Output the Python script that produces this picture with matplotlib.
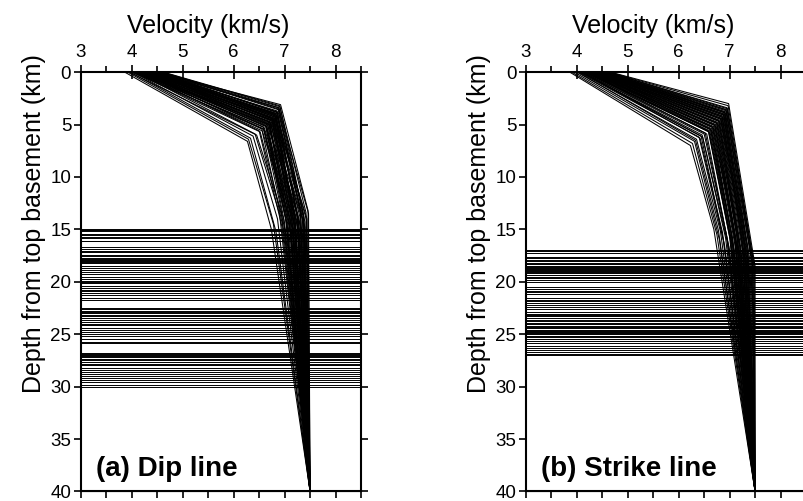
import matplotlib
matplotlib.use("Agg")
import matplotlib.pyplot as plt
from matplotlib.ticker import MultipleLocator

plt.rcParams['font.family'] = ['Liberation Sans', 'DejaVu Sans']

# velocity models: (0, v0) -> (d1, v1) -> (d2, v2) -> (40 km, 7.5)
BOTTOM_DEPTH = 40.0
BOTTOM_VEL = 7.5

# (a) dip line
dip_v0 = [3.86, 3.92, 3.97, 4.02, 4.08, 4.12, 4.18, 4.05, 4.22, 4.15,
          4.28, 4.10, 4.33, 4.20, 4.38, 4.25, 4.42, 4.30, 4.47, 4.35,
          4.52, 4.40, 4.57, 4.45, 4.62, 4.50, 4.00, 4.08, 4.18, 4.26,
          4.34, 4.13, 4.23, 4.31, 4.39, 4.46, 3.95, 4.03, 4.11, 4.21,
          4.29, 4.36, 4.44, 4.54, 4.16, 4.24, 4.32, 4.41, 4.49, 4.58,
          4.07, 4.19, 4.27, 4.37, 4.43, 4.14, 4.22, 4.34, 4.48, 4.60]
dip_d1 = [6.6, 6.4, 6.3, 6.1, 5.9, 5.6, 5.4, 5.2, 5.0, 4.9,
          4.8, 4.7, 4.6, 4.5, 4.4, 4.3, 4.2, 4.1, 4.0, 3.9,
          3.8, 3.7, 3.5, 3.4, 3.2, 3.1, 5.5, 5.0, 4.6, 4.3,
          4.0, 5.2, 4.8, 4.5, 4.2, 3.9, 6.0, 5.7, 5.3, 4.9,
          4.6, 4.4, 4.1, 3.6, 5.1, 4.7, 4.4, 4.1, 3.8, 3.4,
          5.6, 5.2, 4.8, 4.5, 4.3, 5.4, 5.0, 4.6, 4.0, 3.3]
dip_v1 = [6.27, 6.29, 6.33, 6.38, 6.42, 6.50, 6.55, 6.58, 6.62, 6.64,
          6.66, 6.68, 6.70, 6.72, 6.74, 6.75, 6.77, 6.78, 6.80, 6.82,
          6.84, 6.85, 6.87, 6.88, 6.90, 6.92, 6.60, 6.70, 6.78, 6.82,
          6.86, 6.65, 6.72, 6.79, 6.83, 6.88, 6.45, 6.52, 6.60, 6.68,
          6.75, 6.80, 6.84, 6.89, 6.63, 6.70, 6.76, 6.81, 6.86, 6.89,
          6.56, 6.64, 6.71, 6.77, 6.82, 6.58, 6.66, 6.73, 6.83, 6.91]
dip_d2 = [15.0, 14.5, 15.2, 14.0, 13.5, 14.8, 15.5, 13.0, 14.2, 15.0,
          13.8, 14.6, 15.3, 13.4, 14.0, 15.0, 14.4, 13.6, 15.2, 14.8,
          13.9, 14.5, 13.5, 14.0, 13.4, 13.2, 14.5, 15.0, 14.2, 13.8,
          14.6, 15.4, 13.6, 14.9, 15.1, 14.3, 14.0, 15.6, 13.3, 14.7,
          15.3, 13.7, 14.1, 13.5, 14.4, 15.0, 13.9, 14.6, 15.2, 13.8,
          14.3, 15.1, 13.5, 14.8, 14.0, 14.9, 13.7, 15.4, 14.2, 13.6]
dip_v2 = [6.74, 6.78, 6.83, 6.86, 6.90, 6.95, 7.00, 6.93, 7.03, 7.06,
          7.02, 7.10, 7.12, 7.08, 7.14, 7.17, 7.15, 7.20, 7.22, 7.19,
          7.25, 7.28, 7.32, 7.35, 7.42, 7.46, 7.05, 7.15, 7.24, 7.30,
          7.38, 7.12, 7.18, 7.26, 7.33, 7.40, 6.98, 7.04, 7.10, 7.20,
          7.28, 7.36, 7.43, 7.47, 7.00, 7.08, 7.16, 7.22, 7.30, 7.38,
          7.12, 7.22, 7.31, 7.40, 7.44, 7.16, 7.26, 7.35, 7.20, 7.37]
dip_moho = [15.0, 15.05, 15.1, 15.2, 15.4, 15.55, 15.7, 15.85, 16.1, 16.15,
            16.7, 16.9, 17.05, 17.2, 17.4, 17.55, 17.7, 17.8, 17.9, 18.0,
            18.1, 18.25, 18.5, 18.7, 18.9, 19.1, 19.3, 19.5, 19.7, 19.9,
            20.05, 20.1, 20.4, 20.6, 20.75, 20.9, 21.1, 21.3, 21.5, 21.75,
            22.5, 22.6, 22.75, 22.9, 23.0, 23.15, 23.3, 23.45, 23.6, 23.8,
            24.0, 24.15, 24.4, 24.6, 24.8, 25.0, 25.2, 25.45, 25.7, 25.85,
            26.8, 26.9, 27.0, 27.1, 27.2, 27.35, 27.5, 27.65, 27.8, 27.95,
            28.2, 28.4, 28.6, 28.8, 29.0, 29.2, 29.4, 29.6, 29.8, 30.0]

# (b) strike line
strike_v0 = [3.86, 3.90, 3.95, 4.00, 4.04, 4.08, 4.12, 4.16, 4.20, 4.24,
             4.28, 4.32, 4.36, 4.40, 4.44, 4.48, 4.52, 4.56, 4.60, 4.66,
             4.10, 4.18, 4.26, 4.34, 4.42, 4.50, 4.58, 4.14, 4.22, 4.30,
             4.38, 4.46, 4.54, 4.02, 4.06, 4.19, 4.27, 4.35, 4.43, 4.51,
             4.62, 4.11, 4.23, 4.31, 4.39, 4.47, 4.55, 4.15, 4.25, 4.33,
             4.41, 4.49, 4.64, 4.09, 4.21, 4.29, 4.37, 4.45, 4.53, 4.61]
strike_d1 = [7.0, 6.8, 6.6, 6.4, 6.2, 6.0, 5.8, 5.6, 5.4, 5.2,
             5.0, 4.8, 4.6, 4.4, 4.2, 4.0, 3.8, 3.6, 3.4, 3.0,
             6.3, 5.9, 5.5, 5.1, 4.7, 4.3, 3.9, 5.7, 5.3, 4.9,
             4.5, 4.1, 3.7, 6.5, 6.1, 5.6, 5.2, 4.8, 4.4, 4.0,
             3.5, 5.9, 5.4, 5.0, 4.6, 4.2, 3.8, 5.5, 5.1, 4.7,
             4.3, 3.9, 3.2, 6.2, 5.7, 5.3, 4.9, 4.5, 4.1, 3.6]
strike_v1 = [6.23, 6.27, 6.31, 6.35, 6.40, 6.46, 6.52, 6.58, 6.62, 6.66,
             6.70, 6.74, 6.78, 6.82, 6.85, 6.88, 6.90, 6.93, 6.95, 6.98,
             6.42, 6.55, 6.64, 6.72, 6.80, 6.86, 6.92, 6.60, 6.68, 6.76,
             6.83, 6.89, 6.94, 6.33, 6.44, 6.61, 6.69, 6.77, 6.84, 6.90,
             6.96, 6.50, 6.65, 6.73, 6.81, 6.87, 6.93, 6.63, 6.71, 6.79,
             6.85, 6.91, 6.97, 6.47, 6.59, 6.67, 6.75, 6.83, 6.88, 6.95]
strike_d2 = [15.0, 15.5, 16.0, 15.2, 16.5, 15.8, 17.0, 16.2, 15.6, 17.2,
             16.4, 15.4, 17.5, 16.8, 16.0, 17.8, 17.0, 18.0, 18.2, 18.5,
             15.3, 16.6, 15.9, 17.4, 16.3, 17.6, 18.1, 15.7, 16.9, 15.5,
             17.3, 16.7, 18.3, 15.1, 16.1, 17.1, 16.0, 17.7, 16.5, 17.9,
             18.4, 15.6, 16.8, 15.8, 17.2, 16.2, 17.5, 16.4, 17.0, 16.6,
             17.8, 16.9, 18.5, 16.3, 15.9, 17.3, 16.1, 17.6, 16.5, 18.0]
strike_v2 = [6.69, 6.75, 6.80, 6.82, 6.90, 6.92, 7.00, 7.02, 7.04, 7.10,
             7.12, 7.10, 7.20, 7.22, 7.24, 7.30, 7.32, 7.40, 7.45, 7.50,
             6.86, 6.98, 7.06, 7.16, 7.18, 7.28, 7.38, 7.00, 7.12, 7.14,
             7.26, 7.30, 7.44, 6.78, 6.88, 7.08, 7.10, 7.24, 7.26, 7.36,
             7.48, 6.94, 7.08, 7.12, 7.22, 7.28, 7.42, 7.04, 7.16, 7.20,
             7.34, 7.36, 7.48, 6.96, 7.02, 7.18, 7.16, 7.32, 7.34, 7.46]
strike_moho = [17.0, 17.1, 17.25, 17.6, 17.75, 17.9, 18.0, 18.2, 18.3, 18.45,
               18.55, 18.65, 18.8, 18.9, 19.0, 19.1, 19.2, 19.35, 19.5, 19.65,
               19.85, 20.0, 20.5, 20.7, 20.85, 21.0, 21.2, 21.5, 21.7, 21.85,
               22.0, 22.2, 22.4, 22.6, 22.9, 23.05, 23.2, 23.3, 23.45, 23.6,
               23.75, 23.9, 24.05, 24.2, 24.35, 24.45, 24.55, 24.65, 24.75, 24.85,
               25.0, 25.15, 25.3, 25.45, 25.6, 25.8, 26.1, 26.3, 26.5, 26.7,
               26.85, 27.0]


def draw_panel(ax, v0, d1, v1, d2, v2, moho, label):
    for depth in moho:
        ax.axhline(depth, color='black', lw=0.7)
    for i in range(len(v0)):
        vel = [v0[i], v1[i], v2[i], BOTTOM_VEL]
        dep = [0.0, d1[i], d2[i], BOTTOM_DEPTH]
        ax.plot(vel, dep, color='black', lw=0.75)

    ax.set_xlim(3, 8.5)
    ax.set_ylim(40, 0)
    ax.xaxis.set_major_locator(MultipleLocator(1))
    ax.xaxis.set_minor_locator(MultipleLocator(0.5))
    ax.yaxis.set_major_locator(MultipleLocator(5))
    ax.xaxis.tick_top()
    ax.xaxis.set_label_position('top')
    ax.tick_params(axis='x', which='major', direction='inout', length=10,
                   width=1.2, labelsize=13.5, pad=3)
    ax.tick_params(axis='x', which='minor', direction='out', length=4,
                   width=1.2)
    ax.tick_params(axis='y', which='major', direction='out', length=5,
                   width=1.2, labelsize=13.5, pad=2, right=True)
    ax.set_xlabel('Velocity (km/s)', fontsize=18)
    ax.xaxis.set_label_coords(0.4545, 1.094)
    ax.set_ylabel('Depth from top basement (km)', fontsize=18)
    ax.yaxis.set_label_coords(-0.125, 0.64)
    for s in ax.spines.values():
        s.set_linewidth(1.5)

    bot = ax.secondary_xaxis('bottom')
    bot.xaxis.set_major_locator(MultipleLocator(0.5))
    bot.tick_params(direction='out', length=5, width=1.2, labelbottom=False)

    ax.text(3.3, 38.5, label, fontsize=20, fontweight='bold',
            va='baseline', ha='left')


fig = plt.figure(figsize=(8.04, 5.01), dpi=100)
ax1 = fig.add_axes([0.1007, 0.019, 0.3483, 0.837])
ax2 = fig.add_axes([0.6542, 0.019, 0.3483, 0.837])

draw_panel(ax1, dip_v0, dip_d1, dip_v1, dip_d2, dip_v2, dip_moho, '(a) Dip line')
draw_panel(ax2, strike_v0, strike_d1, strike_v1, strike_d2, strike_v2,
           strike_moho, '(b) Strike line')

fig.savefig('out.png', dpi=100)
